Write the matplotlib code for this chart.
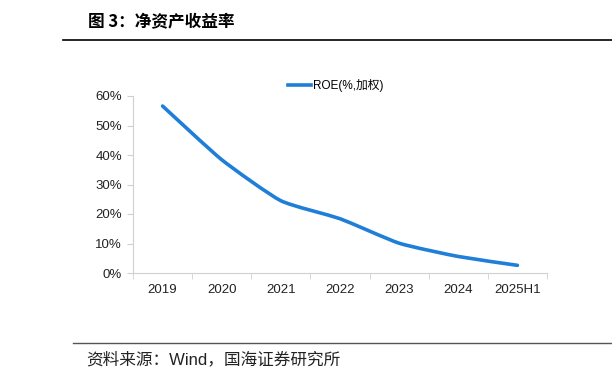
import numpy as np
import matplotlib
matplotlib.use('Agg')
import matplotlib.pyplot as plt
from matplotlib.path import Path
from matplotlib.patches import PathPatch
from matplotlib.lines import Line2D
from matplotlib.ticker import FuncFormatter

plt.rcParams['font.family'] = ['Liberation Sans', 'Noto Sans CJK SC', 'DejaVu Sans']

categories = ['2019', '2020', '2021', '2022', '2023', '2024', '2025H1']
roe = [56.6, 38.4, 24.5, 18.4, 10.1, 5.6, 2.6]

title = '图 3：净资产收益率'
source = '资料来源：Wind，国海证券研究所'
legend_name = 'ROE(%,加权)'
line_color = '#1f7fd8'


def smooth_path(xs, ys, k=0.09):
    """ Lightly smoothed line as cubic bezier segments """
    pts = np.column_stack([xs, ys]).astype(float)
    verts = [pts[0]]
    codes = [Path.MOVETO]
    n = len(pts)
    for i in range(n - 1):
        p0 = pts[i - 1] if i > 0 else pts[i]
        p1 = pts[i]
        p2 = pts[i + 1]
        p3 = pts[i + 2] if i + 2 < n else pts[i + 1]
        c1 = p1 + (p2 - p0) * k
        c2 = p2 - (p3 - p1) * k
        verts += [c1, c2, p2]
        codes += [Path.CURVE4] * 3
    return Path(verts, codes)


fig = plt.figure(figsize=(6.12, 3.82), dpi=100)
ax = fig.add_axes([133 / 612, 1 - 273 / 382, (547 - 133) / 612, (273 - 96) / 382])

x = np.arange(len(categories)) + 0.5
ax.add_patch(PathPatch(smooth_path(x, roe), facecolor='none', edgecolor=line_color,
                       lw=2.6, capstyle='round', joinstyle='round'))

ax.set_xlim(0, len(categories))
ax.set_ylim(0, 60)
ax.set_yticks(np.arange(0, 61, 10))
ax.yaxis.set_major_formatter(FuncFormatter(lambda v, p: '%d%%' % v))
ax.set_xticks(x)
ax.set_xticklabels(categories)
ax.set_xticks(np.arange(0, len(categories) + 1), minor=True)
ax.tick_params(axis='x', which='major', length=0, pad=8, labelsize=9.5, colors='#222222')
ax.tick_params(axis='x', which='minor', length=4, color='#d0d0d0')
ax.tick_params(axis='y', length=4, color='#d0d0d0', labelsize=9.5, colors='#222222', pad=4)
for s in ['top', 'right']:
    ax.spines[s].set_visible(False)
for s in ['left', 'bottom']:
    ax.spines[s].set_color('#d0d0d0')
    ax.spines[s].set_linewidth(0.8)

# Legend
proxy = Line2D([0], [0], color=line_color, lw=2.6)
fig.legend([proxy], [legend_name], loc='center left', bbox_to_anchor=(283 / 612, 1 - 86 / 382),
           frameon=False, fontsize=8.5, handlelength=2.0, handletextpad=0.15, borderaxespad=0)

# Header and footer
fig.text(88 / 612, 1 - 22 / 382, title, fontsize=12, fontweight='bold', va='center', ha='left',
         family=['Noto Sans CJK SC', 'DejaVu Sans'])
fig.add_artist(Line2D([63 / 612, 1], [1 - 40 / 382, 1 - 40 / 382], color='black', lw=1.2))
fig.add_artist(Line2D([73 / 612, 1], [1 - 343 / 382, 1 - 343 / 382], color='#555555', lw=1.0))
fig.text(86 / 612, 1 - 359 / 382, source, fontsize=12, va='center', ha='left', color='#222222')

fig.savefig('out.png', dpi=100)
